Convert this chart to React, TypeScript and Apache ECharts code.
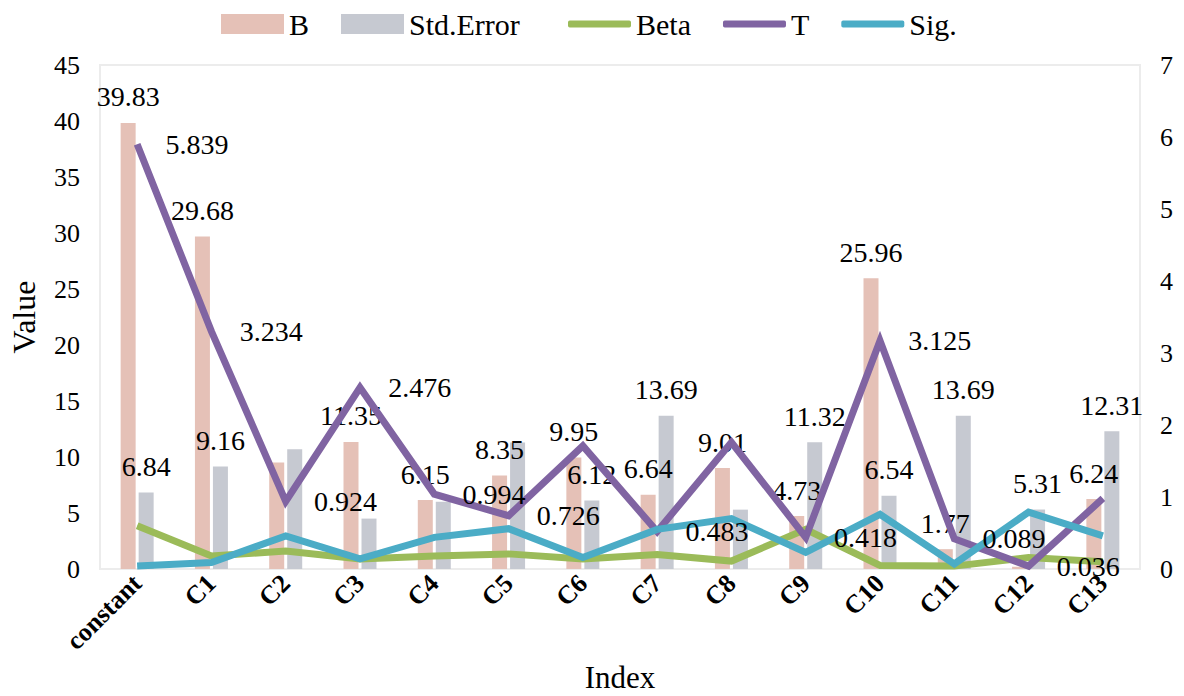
import React, { useEffect, useRef } from "react";
import * as echarts from "echarts";

const categories = ["constant", "C1", "C2", "C3", "C4", "C5", "C6", "C7", "C8", "C9", "C10", "C11", "C12", "C13"];
const bValues = [39.83, 29.68, 9.5, 11.35, 6.15, 8.35, 9.95, 6.64, 9.01, 4.73, 25.96, 1.77, 0.2, 6.24];
const bLabels = ["39.83", "29.68", "", "11.35", "6.15", "8.35", "9.95", "6.64", "9.01", "4.73", "25.96", "1.77", "", "6.24"];
const seValues = [6.84, 9.16, 10.7, 4.5, 6.0, 11.3, 6.12, 13.69, 5.3, 11.32, 6.54, 13.69, 5.31, 12.31];
const seLabels = ["6.84", "9.16", "", "", "", "", "6.12", "13.69", "", "11.32", "6.54", "13.69", "5.31", "12.31"];
const betaValues = [0.6, 0.18, 0.25, 0.14, 0.18, 0.21, 0.14, 0.2, 0.11, 0.55, 0.05, 0.04, 0.16, 0.1];
const tValues = [5.9, 3.3, 0.94, 2.52, 1.04, 0.74, 1.71, 0.52, 1.76, 0.44, 3.17, 0.42, 0.04, 0.98];
const tLabels = ["5.839", "3.234", "0.924", "2.476", "0.994", "0.726", "", "0.483", "", "0.418", "3.125", "0.089", "0.036", ""];
const sigValues = [0.04, 0.09, 0.46, 0.14, 0.44, 0.56, 0.16, 0.55, 0.7, 0.23, 0.76, 0.07, 0.79, 0.46];

const FONT = "Liberation Serif, Times New Roman, serif";
const COLORS = { b: "#e5c1b7", se: "#c6c9d1", beta: "#9bbb59", t: "#8064a2", sig: "#4bacc6" };

export default function App() {
  const ref = useRef<HTMLDivElement>(null);
  useEffect(() => {
    if (!ref.current) return;
    const chart = echarts.init(ref.current, null, { renderer: "svg" });
    const dataLabel = {
      show: true,
      color: "#000",
      fontFamily: FONT,
      fontSize: 28,
    };
    const legendText = { fontFamily: FONT, fontSize: 30, color: "#000" };
    const lineSeries = (name: string, data: number[], color: string, extra: any = {}) => ({
      name,
      type: "line",
      yAxisIndex: 1,
      data,
      symbol: "circle",
      symbolSize: 0.5,
      showSymbol: true,
      color,
      itemStyle: { color },
      lineStyle: { width: 7, color, join: "miter" },
      ...extra,
    });
    chart.setOption({
      animation: false,
      backgroundColor: "#fff",
      textStyle: { fontFamily: FONT, color: "#000" },
      legend: [
        {
          top: 4,
          left: 216,
          itemWidth: 63,
          itemHeight: 20,
          itemGap: 32,
          itemStyle: { borderWidth: 0 },
          textStyle: legendText,
          data: [
            { name: "B", icon: "rect" },
            { name: "Std.Error", icon: "rect" },
          ],
        },
        {
          top: 4,
          left: 563,
          itemWidth: 63,
          itemHeight: 7,
          itemGap: 32,
          itemStyle: { borderWidth: 0 },
          textStyle: legendText,
          data: [
            { name: "Beta", icon: "roundRect" },
            { name: "T", icon: "roundRect" },
            { name: "Sig.", icon: "roundRect" },
          ],
        },
      ],
      grid: {
        left: 100,
        right: 44,
        top: 65,
        bottom: 127,
        show: true,
        borderColor: "#ececec",
        borderWidth: 2,
        outerBoundsMode: "none",
        containLabel: false,
      },
      xAxis: {
        type: "category",
        data: categories,
        name: "Index",
        nameLocation: "middle",
        nameGap: 88,
        nameTextStyle: { fontFamily: FONT, fontSize: 31, color: "#000" },
        axisLine: { show: false },
        axisTick: { show: false },
        axisLabel: {
          rotate: 45,
          margin: 10,
          fontFamily: FONT,
          fontSize: 26,
          fontWeight: "bold",
          color: "#000",
          interval: 0,
        },
      },
      yAxis: [
        {
          type: "value",
          min: 0,
          max: 45,
          interval: 5,
          name: "Value",
          nameLocation: "middle",
          nameGap: 60,
          nameTextStyle: { fontFamily: FONT, fontSize: 32, color: "#000" },
          axisLine: { show: false },
          axisTick: { show: false },
          splitLine: { show: false },
          axisLabel: { fontFamily: FONT, fontSize: 26, color: "#000", margin: 20 },
        },
        {
          type: "value",
          min: 0,
          max: 7,
          interval: 1,
          axisLine: { show: false },
          axisTick: { show: false },
          splitLine: { show: false },
          axisLabel: { fontFamily: FONT, fontSize: 26, color: "#000", margin: 20 },
        },
      ],
      series: [
        {
          name: "B",
          type: "bar",
          yAxisIndex: 0,
          data: bValues,
          barWidth: 15,
          barGap: "20%",
          itemStyle: { color: COLORS.b },
          label: {
            ...dataLabel,
            position: "top",
            distance: 12,
            formatter: (p: any) => bLabels[p.dataIndex] || "",
          },
        },
        {
          name: "Std.Error",
          type: "bar",
          yAxisIndex: 0,
          data: seValues,
          barWidth: 15,
          itemStyle: { color: COLORS.se },
          label: {
            ...dataLabel,
            position: "top",
            distance: 12,
            formatter: (p: any) => seLabels[p.dataIndex] || "",
          },
        },
        lineSeries("Beta", betaValues, COLORS.beta),
        lineSeries("T", tValues, COLORS.t, {
          label: {
            ...dataLabel,
            position: "right",
            distance: 28,
            formatter: (p: any) => tLabels[p.dataIndex] || "",
          },
        }),
        lineSeries("Sig.", sigValues, COLORS.sig),
      ],
    });
    return () => chart.dispose();
  }, []);
  return (
    <div
      ref={ref}
      style={{ position: "absolute", left: 0, top: 0, width: 1184, height: 696 }}
    />
  );
}
